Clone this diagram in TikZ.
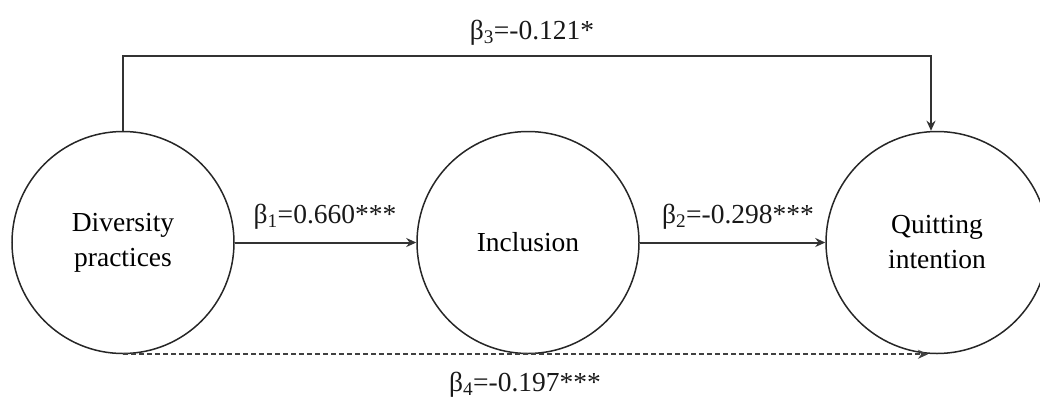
\documentclass[tikz,border=0pt]{standalone}
\usepackage{fontspec}
\setmainfont{Liberation Serif}
\usetikzlibrary{arrows.meta}
\begin{document}
\begin{tikzpicture}[x=1pt,y=-1pt,
  var/.style={circle,draw=black!85,line width=1.5pt,minimum size=222pt,inner sep=0pt,align=center,font=\fontsize{27.5}{35}\selectfont},
  lbl/.style={font=\fontsize{27.5}{33}\selectfont,inner sep=0pt,text=black!90},
  conn/.style={draw=black!80,line width=2pt,-{Stealth[length=10pt,width=9pt]}},
  dconn/.style={draw=black!75,line width=1.6pt,dash pattern=on 5pt off 3pt,-{Stealth[length=10pt,width=9pt]}}]
\useasboundingbox (0,0) rectangle (1040,399);
\node[var] (dp) at (123,242.5) {Diversity\\practices};
\node[var] (inc) at (528,242.5) {Inclusion};
\node[var] (qi) at (937,242.5) {Quitting\\intention};
\coordinate (topl) at (123,56);
\draw[conn] (dp.north) -- (topl) -| ([xshift=-6pt]qi.north);
\draw[conn] (dp.east) -- (inc.west);
\draw[conn] (inc.east) -- (qi.west);
\draw[dconn] (dp.south) -- ([xshift=-9pt]qi.south);
\node[lbl] (b3) at (532,33) {β\textsubscript{3}=-0.121*};
\node[lbl] (b1) at (325,217) {β\textsubscript{1}=0.660***};
\node[lbl] (b2) at (738,217) {β\textsubscript{2}=-0.298***};
\node[lbl] (b4) at (525,385) {β\textsubscript{4}=-0.197***};
\end{tikzpicture}
\end{document}
